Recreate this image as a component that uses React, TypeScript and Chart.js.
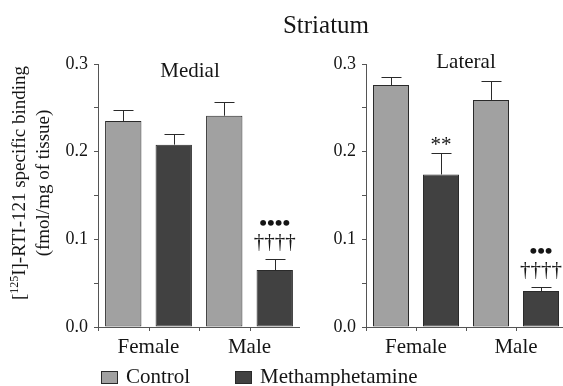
import React, { useEffect, useRef } from 'react';
import { Chart, registerables } from 'chart.js';

Chart.register(...registerables);

// ---- data ----
const groups = ['Female', 'Male'];
const seriesNames = ['Control', 'Methamphetamine'];
const panelTitles = ['Medial', 'Lateral'];
const chartTitle = 'Striatum';

const medialControl = [0.235, 0.241];
const medialControlErr = [0.013, 0.016];
const medialMeth = [0.208, 0.065];
const medialMethErr = [0.012, 0.012];

const lateralControl = [0.276, 0.259];
const lateralControlErr = [0.009, 0.022];
const lateralMeth = [0.174, 0.041];
const lateralMethErr = [0.025, 0.005];

// significance marks per bar, listed bottom line first
const medialControlMarks: string[][] = [[], []];
const medialMethMarks: string[][] = [[], ['††††', '••••']];
const lateralControlMarks: string[][] = [[], []];
const lateralMethMarks: string[][] = [['**'], ['††††', '•••']];

const yMin = 0;
const yMax = 0.3;
const yStep = 0.05;

// ---- styles ----
const SERIF = '"Liberation Serif", "Times New Roman", serif';
const CONTROL_COLOR = '#a1a1a1';
const METH_COLOR = '#414141';
const EDGE = '#2a2a2a';
const AXIS = '#555555';
const TEXT = '#151515';

const errPlugin = {
  id: 'errbars',
  afterDatasetsDraw(chart: any, _args: any, opts: any) {
    const ctx = chart.ctx as CanvasRenderingContext2D;
    const ys = chart.scales.y;
    const xs = chart.scales.x;
    ctx.save();
    ctx.strokeStyle = EDGE;
    ctx.lineWidth = 1;
    chart.data.datasets.forEach((ds: any, di: number) => {
      const meta = chart.getDatasetMeta(di);
      meta.data.forEach((bar: any, i: number) => {
        const v = ds.data[i];
        const e = opts.errs[di][i];
        const cx = Math.round(bar.x) + 0.5;
        const topPx = ys.getPixelForValue(v + e);
        const t = Math.round(topPx) + 0.5;
        ctx.beginPath();
        ctx.moveTo(cx, bar.y);
        ctx.lineTo(cx, t);
        ctx.moveTo(cx - 10, t);
        ctx.lineTo(cx + 10, t);
        ctx.stroke();
        const lines: string[] = (opts.marks[di] && opts.marks[di][i]) || [];
        let bottom = topPx - 8;
        ctx.fillStyle = TEXT;
        ctx.textAlign = 'center';
        ctx.textBaseline = 'alphabetic';
        lines.forEach((line) => {
          ctx.font = line.indexOf('•') >= 0 ? 'bold 22px ' + SERIF : '21px ' + SERIF;
          const m = ctx.measureText(line);
          const base = bottom - m.actualBoundingBoxDescent;
          ctx.fillText(line, bar.x, base);
          bottom = base - m.actualBoundingBoxAscent - 8;
        });
      });
    });
    // extra x tick marks between the two bars of each group
    ctx.strokeStyle = AXIS;
    const b = chart.chartArea.bottom;
    for (let i = 0; i < groups.length; i++) {
      const px = Math.round(xs.getPixelForValue(i)) + 0.5;
      ctx.beginPath();
      ctx.moveTo(px, b);
      ctx.lineTo(px, b + 4);
      ctx.stroke();
    }
    ctx.restore();
  },
};

function makeConfig(
  ctrl: number[],
  ctrlErr: number[],
  meth: number[],
  methErr: number[],
  ctrlMarks: string[][],
  methMarks: string[][],
  yAxisWidth: number
): any {
  return {
    type: 'bar',
    data: {
      labels: groups,
      datasets: [
        {
          label: seriesNames[0],
          data: ctrl,
          backgroundColor: CONTROL_COLOR,
          borderColor: EDGE,
          borderWidth: 1,
          borderSkipped: false,
          categoryPercentage: 1,
          barPercentage: 0.72,
        },
        {
          label: seriesNames[1],
          data: meth,
          backgroundColor: METH_COLOR,
          borderColor: EDGE,
          borderWidth: 1,
          borderSkipped: false,
          categoryPercentage: 1,
          barPercentage: 0.72,
        },
      ],
    },
    options: {
      responsive: false,
      animation: false,
      devicePixelRatio: 1,
      layout: { padding: { left: 0, right: 0, top: 64, bottom: 0 } },
      plugins: {
        legend: { display: false },
        tooltip: { enabled: false },
        title: { display: false },
        errbars: { errs: [ctrlErr, methErr], marks: [ctrlMarks, methMarks] },
      },
      scales: {
        x: {
          grid: {
            display: true,
            drawOnChartArea: false,
            offset: true,
            tickLength: 4,
            color: AXIS,
          },
          border: { color: AXIS, width: 1 },
          ticks: {
            font: { family: SERIF, size: 21 },
            color: TEXT,
            padding: 4,
            maxRotation: 0,
          },
          afterFit: (s: any) => {
            s.height = 59;
          },
        },
        y: {
          min: yMin,
          max: yMax,
          ticks: {
            stepSize: yStep,
            autoSkip: false,
            callback: (v: any, i: number) => (i % 2 === 0 ? Number(v).toFixed(1) : ''),
            font: { family: SERIF, size: 18 },
            color: TEXT,
            padding: 6,
          },
          grid: { drawOnChartArea: false, tickLength: 4, color: AXIS },
          border: { color: AXIS, width: 1 },
          afterFit: (s: any) => {
            s.width = yAxisWidth;
          },
        },
      },
    },
    plugins: [errPlugin],
  };
}

export default function App() {
  const leftRef = useRef<HTMLCanvasElement | null>(null);
  const rightRef = useRef<HTMLCanvasElement | null>(null);

  useEffect(() => {
    const c1 = new Chart(
      leftRef.current as HTMLCanvasElement,
      makeConfig(medialControl, medialControlErr, medialMeth, medialMethErr, medialControlMarks, medialMethMarks, 98)
    );
    const c2 = new Chart(
      rightRef.current as HTMLCanvasElement,
      makeConfig(lateralControl, lateralControlErr, lateralMeth, lateralMethErr, lateralControlMarks, lateralMethMarks, 66)
    );
    return () => {
      c1.destroy();
      c2.destroy();
    };
  }, []);

  const txt: React.CSSProperties = {
    position: 'absolute',
    fontFamily: SERIF,
    color: TEXT,
    whiteSpace: 'nowrap',
    margin: 0,
  };

  return (
    <div
      style={{
        position: 'fixed',
        left: 0,
        top: 0,
        width: 563,
        height: 386,
        overflow: 'hidden',
        background: '#ffffff',
      }}
    >
      <canvas
        ref={leftRef}
        width={300}
        height={386}
        style={{ position: 'absolute', left: 0, top: 0, width: 300, height: 386, display: 'block' }}
      />
      <canvas
        ref={rightRef}
        width={266}
        height={386}
        style={{ position: 'absolute', left: 300, top: 0, width: 266, height: 386, display: 'block' }}
      />
      <div style={{ ...txt, left: 326, top: 12, fontSize: 25, lineHeight: '25px', transform: 'translateX(-50%)' }}>
        {chartTitle}
      </div>
      <div style={{ ...txt, left: 190, top: 60, fontSize: 21, lineHeight: '21px', transform: 'translateX(-50%)' }}>
        {panelTitles[0]}
      </div>
      <div style={{ ...txt, left: 466, top: 51, fontSize: 21, lineHeight: '21px', transform: 'translateX(-50%)' }}>
        {panelTitles[1]}
      </div>
      <div
        style={{
          ...txt,
          left: -100,
          top: 161,
          width: 260,
          height: 44,
          fontSize: 19,
          lineHeight: '22px',
          textAlign: 'center',
          transform: 'rotate(-90deg)',
        }}
      >
        [<span style={{ fontSize: 12, position: 'relative', top: -7 }}>125</span>I]-RTI-121 specific binding
        <br />
        (fmol/mg of tissue)
      </div>
      <div
        style={{
          position: 'absolute',
          left: 101,
          top: 371,
          width: 17,
          height: 13,
          boxSizing: 'border-box',
          background: CONTROL_COLOR,
          border: '1px solid ' + EDGE,
        }}
      />
      <div style={{ ...txt, left: 126, top: 366, fontSize: 21, lineHeight: '21px' }}>{seriesNames[0]}</div>
      <div
        style={{
          position: 'absolute',
          left: 235,
          top: 371,
          width: 17,
          height: 13,
          boxSizing: 'border-box',
          background: METH_COLOR,
          border: '1px solid ' + EDGE,
        }}
      />
      <div style={{ ...txt, left: 260, top: 366, fontSize: 21, lineHeight: '21px' }}>{seriesNames[1]}</div>
    </div>
  );
}
